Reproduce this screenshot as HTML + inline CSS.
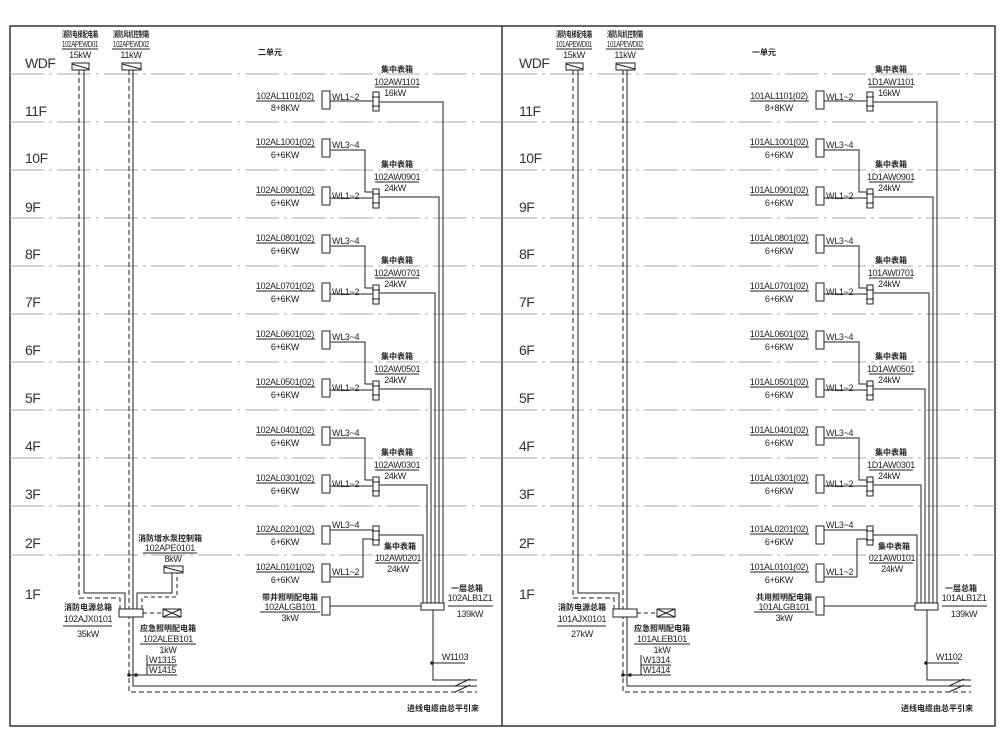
<!DOCTYPE html>
<html><head><meta charset="utf-8"><style>
html,body{margin:0;padding:0;background:#fff;width:1000px;height:750px;overflow:hidden}
svg{display:block}
text{font-family:"Liberation Sans","Noto Sans CJK SC",sans-serif;font-size:9px;fill:#222;letter-spacing:-0.3px}
.c{text-anchor:middle}
.cn{font-size:8px;font-weight:bold;letter-spacing:0}
.fl{font-size:14px;letter-spacing:-0.5px;fill:#333}
.s{font-size:8px;letter-spacing:-0.4px}
</style></head><body>
<svg width="1000" height="750" viewBox="0 0 1000 750" xmlns="http://www.w3.org/2000/svg">
<defs>
<g id="fl" stroke="#aaa" stroke-width="1" stroke-dasharray="34 5 3 5" fill="none">
<path d="M10 74H502M10 122H502M10 170H502M10 218H502M10 266H502M10 314H502M10 362H502M10 410H502M10 458H502M10 506H502M10 555H502"/>
</g>
<g id="m"><rect x="0" y="0" width="6" height="19" fill="#fff" stroke="#222"/><path d="M-1 5H7M-1 14H7" stroke="#222"/></g>
<g id="pair" fill="none" stroke="#222" stroke-width="1">
<rect x="322" y="139" width="8" height="18" fill="#fff"/><rect x="322" y="187" width="8" height="18" fill="#fff"/>
<path d="M330 150H365V192H373M330 198H373"/>
<path d="M256 147H315M256 195H315M375 182H419"/>
</g>
<g id="u" fill="none" stroke="#222" stroke-width="1">
<rect x="72" y="63" width="17" height="7" fill="#fff"/><path d="M72 64L89 69"/>
<rect x="122" y="63" width="19" height="7" fill="#fff"/><path d="M122 64L141 69"/>
<path d="M62 49H98M112 49H150"/>
<path d="M84 70V593H125V609"/>
<path d="M79 70V598H120V609" stroke-dasharray="5 3"/>
<path d="M129 70V692H477" stroke-dasharray="5 3"/>
<path d="M133 70V686H477"/>
<rect x="119" y="609" width="24" height="8" fill="#fff"/>
<path d="M143 613H163" stroke-dasharray="4 3"/>
<rect x="163" y="609" width="18" height="8" fill="#fff"/><path d="M163 609L181 617M163 617L181 609"/>
<path d="M63 626H112M140 644H196M147 655V675M147 665H177M128 675H177"/>
<circle cx="129" cy="675" r="1.3" fill="#222"/><circle cx="136" cy="675" r="1.3" fill="#222"/>
<rect x="322" y="91" width="8" height="18" fill="#fff"/>
<path d="M330 101H373M256 101H315M375 87H419"/>
<use href="#m" x="373" y="92"/>
<path d="M379 102H443V603"/>
<use href="#pair"/><use href="#m" x="373" y="189"/><path d="M379 197H439V603"/>
<use href="#pair" y="96"/><use href="#m" x="373" y="285"/><path d="M379 293H435V603"/>
<use href="#pair" y="192"/><use href="#m" x="373" y="381"/><path d="M379 389H431V603"/>
<use href="#pair" y="288"/><use href="#m" x="373" y="477"/><path d="M379 485H427V603"/>
<rect x="322" y="526" width="8" height="18" fill="#fff"/><rect x="322" y="564" width="8" height="18" fill="#fff"/>
<path d="M330 530H373M330 577H363V539H373M256 534H315M256 572H315M375 563H419"/>
<use href="#m" x="373" y="526"/>
<path d="M379 535H423V603"/>
<rect x="322" y="597" width="8" height="18" fill="#fff"/>
<path d="M330 606H421M260 612H320"/>
<rect x="421" y="603" width="23" height="7" fill="#fff"/>
<path d="M448 606H493"/>
<path d="M433 610V680H477M432 663H465M455 686L470 679M455 692L470 685"/>
<circle cx="432" cy="663" r="1.3" fill="#222"/>
</g>
</defs>

<rect x="10" y="26" width="985" height="700" fill="none" stroke="#333" stroke-width="1.5"/>
<line x1="502" y1="26" x2="502" y2="726" stroke="#333" stroke-width="1.5"/>
<use href="#fl"/><use href="#fl" x="493"/>
<use href="#u"/><use href="#u" x="494"/>

<g fill="none" stroke="#222">
<rect x="164" y="566" width="19" height="7" fill="#fff"/><path d="M164 567L183 572"/>
<path d="M137 609V593H172V573"/>
<path d="M142 609V597H177V573" stroke-dasharray="4 3"/>
<path d="M143 553H197"/>
</g>

<g>
<text x="25" y="68" class="fl">WDF</text><text x="25" y="116" class="fl">11F</text><text x="25" y="163" class="fl">10F</text><text x="25" y="212" class="fl">9F</text><text x="25" y="259" class="fl">8F</text><text x="25" y="307" class="fl">7F</text><text x="25" y="355" class="fl">6F</text><text x="25" y="403" class="fl">5F</text><text x="25" y="451" class="fl">4F</text><text x="25" y="499" class="fl">3F</text><text x="25" y="548" class="fl">2F</text><text x="25" y="599" class="fl">1F</text>
<text x="519" y="68" class="fl">WDF</text><text x="519" y="116" class="fl">11F</text><text x="519" y="163" class="fl">10F</text><text x="519" y="212" class="fl">9F</text><text x="519" y="259" class="fl">8F</text><text x="519" y="307" class="fl">7F</text><text x="519" y="355" class="fl">6F</text><text x="519" y="403" class="fl">5F</text><text x="519" y="451" class="fl">4F</text><text x="519" y="499" class="fl">3F</text><text x="519" y="548" class="fl">2F</text><text x="519" y="599" class="fl">1F</text>
</g>

<g>
<text x="80" y="37" class="c cn" textLength="36" lengthAdjust="spacingAndGlyphs">消防电梯配电箱</text><text x="80" y="47" class="c s" textLength="36" lengthAdjust="spacingAndGlyphs">102APEWD01</text><text x="80" y="58" class="c">15kW</text>
<text x="131" y="37" class="c cn" textLength="36" lengthAdjust="spacingAndGlyphs">消防风机控制箱</text><text x="131" y="47" class="c s" textLength="36" lengthAdjust="spacingAndGlyphs">102APEWD02</text><text x="131" y="58" class="c">11kW</text>
<text x="270" y="55" class="c cn">二单元</text>
<text x="397" y="72" class="c cn">集中表箱</text><text x="397" y="85" class="c">102AW1101</text><text x="395" y="96" class="c">16kW</text>
<text x="285" y="99" class="c">102AL1101(02)</text><text x="285" y="111" class="c">8+8KW</text><text x="332" y="100">WL1~2</text>

<text x="285" y="145" class="c">102AL1001(02)</text><text x="285" y="158" class="c">6+6KW</text><text x="332" y="148">WL3~4</text>
<text x="285" y="193" class="c">102AL0901(02)</text><text x="285" y="206" class="c">6+6KW</text><text x="332" y="199">WL1~2</text>
<text x="397" y="167" class="c cn">集中表箱</text><text x="397" y="180" class="c">102AW0901</text><text x="395" y="191" class="c">24kW</text>

<text x="285" y="241" class="c">102AL0801(02)</text><text x="285" y="254" class="c">6+6KW</text><text x="332" y="244">WL3~4</text>
<text x="285" y="289" class="c">102AL0701(02)</text><text x="285" y="302" class="c">6+6KW</text><text x="332" y="295">WL1~2</text>
<text x="397" y="263" class="c cn">集中表箱</text><text x="397" y="276" class="c">102AW0701</text><text x="395" y="287" class="c">24kW</text>

<text x="285" y="337" class="c">102AL0601(02)</text><text x="285" y="350" class="c">6+6KW</text><text x="332" y="340">WL3~4</text>
<text x="285" y="385" class="c">102AL0501(02)</text><text x="285" y="398" class="c">6+6KW</text><text x="332" y="391">WL1~2</text>
<text x="397" y="359" class="c cn">集中表箱</text><text x="397" y="372" class="c">102AW0501</text><text x="395" y="383" class="c">24kW</text>

<text x="285" y="433" class="c">102AL0401(02)</text><text x="285" y="446" class="c">6+6KW</text><text x="332" y="436">WL3~4</text>
<text x="285" y="481" class="c">102AL0301(02)</text><text x="285" y="494" class="c">6+6KW</text><text x="332" y="487">WL1~2</text>
<text x="397" y="455" class="c cn">集中表箱</text><text x="397" y="468" class="c">102AW0301</text><text x="395" y="479" class="c">24kW</text>

<text x="285" y="532" class="c">102AL0201(02)</text><text x="285" y="545" class="c">6+6KW</text><text x="332" y="528">WL3~4</text>
<text x="285" y="570" class="c">102AL0101(02)</text><text x="285" y="583" class="c">6+6KW</text><text x="332" y="575">WL1~2</text>
<text x="400" y="549" class="c cn">集中表箱</text><text x="398" y="561" class="c">102AW0201</text><text x="398" y="572" class="c">24kW</text>

<text x="290" y="600" class="c cn">带井照明配电箱</text><text x="290" y="610" class="c">102ALGB101</text><text x="290" y="621" class="c">3kW</text>
<text x="467" y="591" class="c cn">一层总箱</text><text x="470" y="601" class="c">102ALB1Z1</text><text x="470" y="617" class="c">139kW</text>
<text x="455" y="660" class="c">W1103</text>
<text x="88" y="610" class="c cn">消防电源总箱</text><text x="88" y="622" class="c">102AJX0101</text><text x="88" y="637" class="c">35kW</text>
<text x="170" y="541" class="c cn">消防增水泵控制箱</text><text x="170" y="551" class="c">102APE0101</text><text x="173" y="562" class="c">8kW</text>
<text x="168" y="631" class="c cn">应急照明配电箱</text><text x="168" y="642" class="c">102ALEB101</text><text x="168" y="653" class="c">1kW</text>
<text x="149" y="663">W1315</text><text x="149" y="673">W1415</text>
<text x="443" y="711" class="c cn">进线电缆由总平引来</text>
</g>

<g transform="translate(494,0)">
<text x="80" y="37" class="c cn" textLength="36" lengthAdjust="spacingAndGlyphs">消防电梯配电箱</text><text x="80" y="47" class="c s" textLength="36" lengthAdjust="spacingAndGlyphs">101APEWD01</text><text x="80" y="58" class="c">15kW</text>
<text x="131" y="37" class="c cn" textLength="36" lengthAdjust="spacingAndGlyphs">消防风机控制箱</text><text x="131" y="47" class="c s" textLength="36" lengthAdjust="spacingAndGlyphs">101APEWD02</text><text x="131" y="58" class="c">11kW</text>
<text x="270" y="55" class="c cn">一单元</text>
<text x="397" y="72" class="c cn">集中表箱</text><text x="397" y="85" class="c">1D1AW1101</text><text x="395" y="96" class="c">16kW</text>
<text x="285" y="99" class="c">101AL1101(02)</text><text x="285" y="111" class="c">8+8KW</text><text x="332" y="100">WL1~2</text>

<text x="285" y="145" class="c">101AL1001(02)</text><text x="285" y="158" class="c">6+6KW</text><text x="332" y="148">WL3~4</text>
<text x="285" y="193" class="c">101AL0901(02)</text><text x="285" y="206" class="c">6+6KW</text><text x="332" y="199">WL1~2</text>
<text x="397" y="167" class="c cn">集中表箱</text><text x="397" y="180" class="c">1D1AW0901</text><text x="395" y="191" class="c">24kW</text>

<text x="285" y="241" class="c">101AL0801(02)</text><text x="285" y="254" class="c">6+6KW</text><text x="332" y="244">WL3~4</text>
<text x="285" y="289" class="c">101AL0701(02)</text><text x="285" y="302" class="c">6+6KW</text><text x="332" y="295">WL1~2</text>
<text x="397" y="263" class="c cn">集中表箱</text><text x="397" y="276" class="c">101AW0701</text><text x="395" y="287" class="c">24kW</text>

<text x="285" y="337" class="c">101AL0601(02)</text><text x="285" y="350" class="c">6+6KW</text><text x="332" y="340">WL3~4</text>
<text x="285" y="385" class="c">101AL0501(02)</text><text x="285" y="398" class="c">6+6KW</text><text x="332" y="391">WL1~2</text>
<text x="397" y="359" class="c cn">集中表箱</text><text x="397" y="372" class="c">1D1AW0501</text><text x="395" y="383" class="c">24kW</text>

<text x="285" y="433" class="c">101AL0401(02)</text><text x="285" y="446" class="c">6+6KW</text><text x="332" y="436">WL3~4</text>
<text x="285" y="481" class="c">101AL0301(02)</text><text x="285" y="494" class="c">6+6KW</text><text x="332" y="487">WL1~2</text>
<text x="397" y="455" class="c cn">集中表箱</text><text x="397" y="468" class="c">1D1AW0301</text><text x="395" y="479" class="c">24kW</text>

<text x="285" y="532" class="c">101AL0201(02)</text><text x="285" y="545" class="c">6+6KW</text><text x="332" y="528">WL3~4</text>
<text x="285" y="570" class="c">101AL0101(02)</text><text x="285" y="583" class="c">6+6KW</text><text x="332" y="575">WL1~2</text>
<text x="400" y="549" class="c cn">集中表箱</text><text x="398" y="561" class="c">021AW0101</text><text x="398" y="572" class="c">24kW</text>

<text x="290" y="600" class="c cn">共用照明配电箱</text><text x="290" y="610" class="c">101ALGB101</text><text x="290" y="621" class="c">3kW</text>
<text x="467" y="591" class="c cn">一层总箱</text><text x="470" y="601" class="c">101ALB1Z1</text><text x="470" y="617" class="c">139kW</text>
<text x="455" y="660" class="c">W1102</text>
<text x="88" y="610" class="c cn">消防电源总箱</text><text x="88" y="622" class="c">101AJX0101</text><text x="88" y="637" class="c">27kW</text>
<text x="168" y="631" class="c cn">应急照明配电箱</text><text x="168" y="642" class="c">101ALEB101</text><text x="168" y="653" class="c">1kW</text>
<text x="149" y="663">W1314</text><text x="149" y="673">W1414</text>
<text x="443" y="711" class="c cn">进线电缆由总平引来</text>
</g>
</svg>
</body></html>
